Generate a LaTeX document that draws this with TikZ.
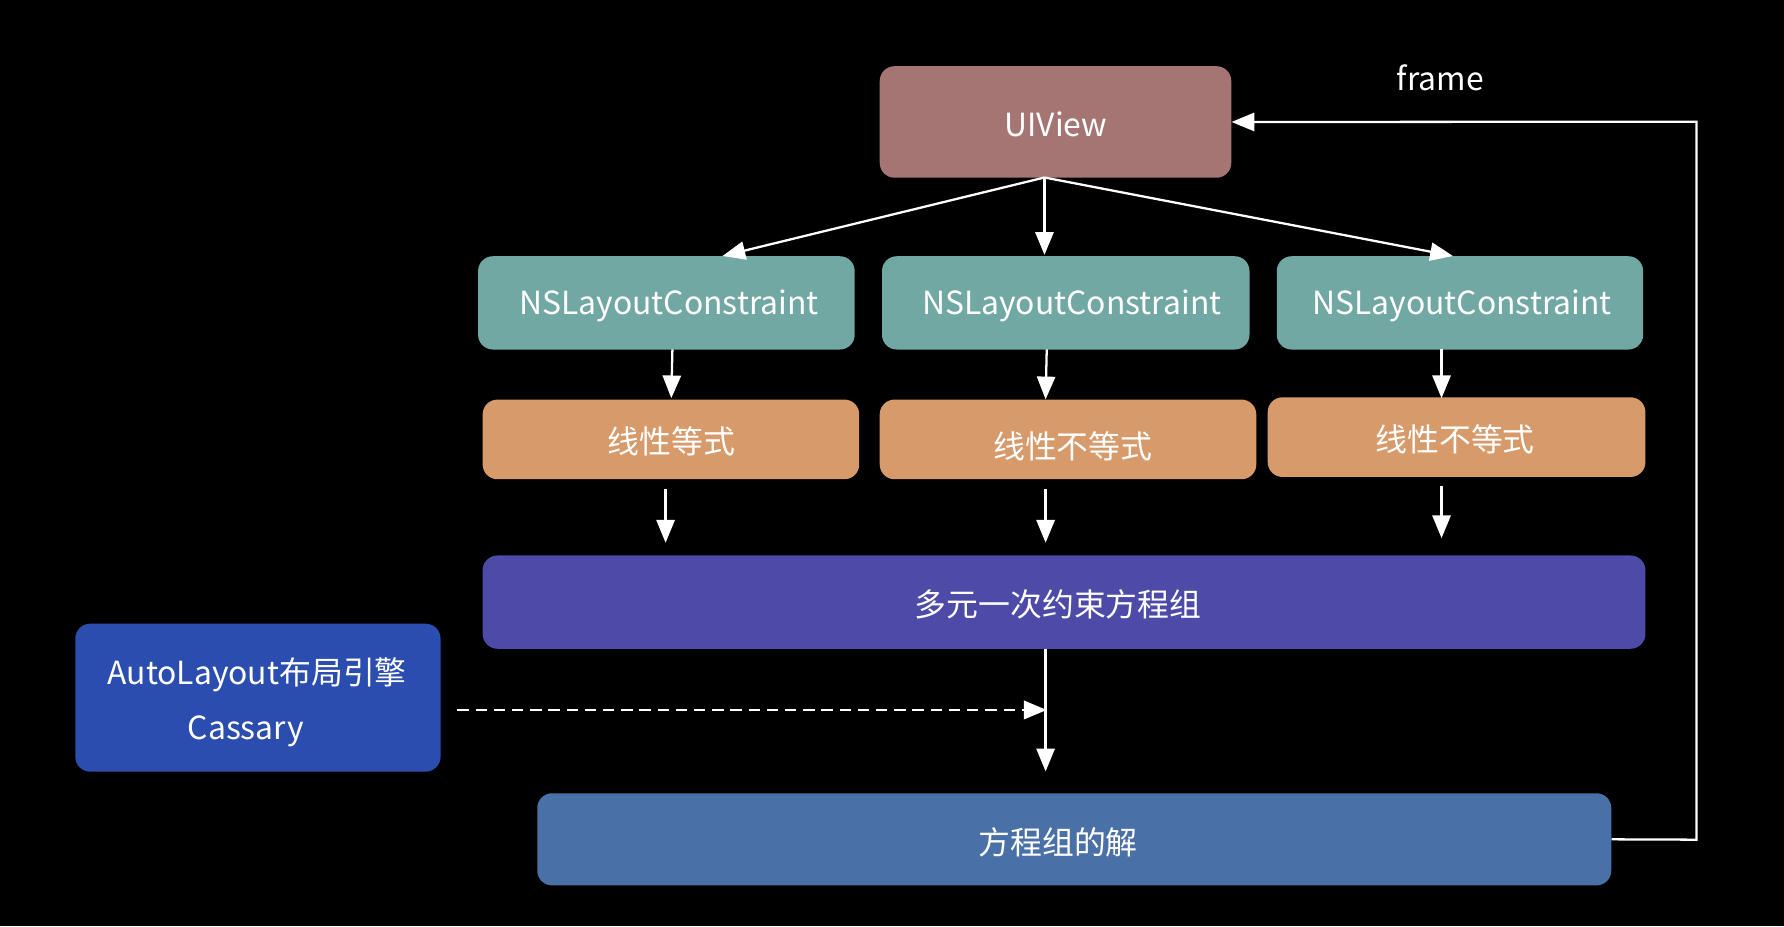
\documentclass[tikz,border=0pt]{standalone}
\usepackage{fontspec}
\setmainfont{Noto Sans CJK SC}
\usetikzlibrary{arrows.meta}
\definecolor{cview}{HTML}{A57573}
\definecolor{cnsl}{HTML}{72A8A3}
\definecolor{cline}{HTML}{D69A6B}
\definecolor{cmulti}{HTML}{4E4BA8}
\definecolor{cauto}{HTML}{2C4DB0}
\definecolor{csol}{HTML}{4A70A8}
\tikzset{
  box/.style={rounded corners=13pt, inner sep=0pt, anchor=north west},
  lbl/.style={text=white, inner sep=0pt, font=\fontsize{28}{32}\selectfont},
  conn/.style={draw=white, line width=2pt, -{Triangle[length=20pt,width=16pt]}},
}
\begin{document}
\begin{tikzpicture}[x=1pt,y=-1pt]
\fill[black] (0,0) rectangle (1568,814);
\useasboundingbox (0,0) rectangle (1568,814);
\node[box, fill=cview, minimum width=309pt, minimum height=98pt] (uiview) at (773,58) {};
\node[lbl] (tuiview) at (928,109) {UIView};
\node[lbl] (frame) at (1266,68) {frame};
\node[box, fill=cnsl, minimum width=331pt, minimum height=82pt] (n1) at (420,225) {};
\node[box, fill=cnsl, minimum width=323pt, minimum height=82pt] (n2) at (775,225) {};
\node[box, fill=cnsl, minimum width=322pt, minimum height=82pt] (n3) at (1122,225) {};
\node[lbl] (tn1) at (588,269) {NSLayoutConstraint};
\node[lbl] (tn2) at (942,269) {NSLayoutConstraint};
\node[lbl] (tn3) at (1285,269) {NSLayoutConstraint};
\node[box, fill=cline, minimum width=331pt, minimum height=70pt] (l1) at (424,351) {};
\node[box, fill=cline, minimum width=331pt, minimum height=70pt] (l2) at (773,351) {};
\node[box, fill=cline, minimum width=332pt, minimum height=70pt] (l3) at (1114,349) {};
\node[lbl] (tl1) at (590,388) {线性等式};
\node[lbl] (tl2) at (943,392) {线性不等式};
\node[lbl] (tl3) at (1279,386) {线性不等式};
\node[box, fill=cmulti, minimum width=1022pt, minimum height=82pt] (multi) at (424,488) {};
\node[lbl] (tmulti) at (930,531) {多元一次约束方程组};
\node[box, fill=cauto, minimum width=321pt, minimum height=130pt] (auto) at (66,548) {};
\node[lbl] (tauto1) at (226,593) {AutoLayout布局引擎};
\node[lbl] (tauto2) at (216,643) {Cassary};
\node[box, fill=csol, minimum width=944pt, minimum height=81pt] (sol) at (472,697) {};
\node[lbl] (tsol) at (930,740) {方程组的解};
% connectors
\coordinate (u0) at (918,156);
\draw[conn] (u0) -- (635,225);
\draw[conn] (u0) -- (918,224);
\draw[conn] (u0) -- (1277,225);
\draw[conn] (591,307) -- (590,350);
\draw[conn] (920,307) -- (919,351);
\draw[conn] (1267,307) -- (1267,350);
\coordinate (a1) at (585,430);
\coordinate (a2) at (919,430);
\coordinate (a3) at (1267,427);
\draw[conn] (a1) -- (585,477);
\draw[conn] (a2) -- (919,477);
\draw[conn] (a3) -- (1267,473);
\coordinate (m0) at (919,570);
\coordinate (m1) at (919,678);
\draw[conn] (m0) -- (m1);
\coordinate (d0) at (402,624);
\coordinate (d1) at (920,624);
\draw[conn, line width=2.4pt, dash pattern=on 10pt off 6pt] (d0) -- (d1);
\coordinate (r1) at (1491,738);
\coordinate (r2) at (1491,107);
\draw[conn] (sol.east) -- (r1) -- (r2) -- (uiview.east);
\end{tikzpicture}
\end{document}
